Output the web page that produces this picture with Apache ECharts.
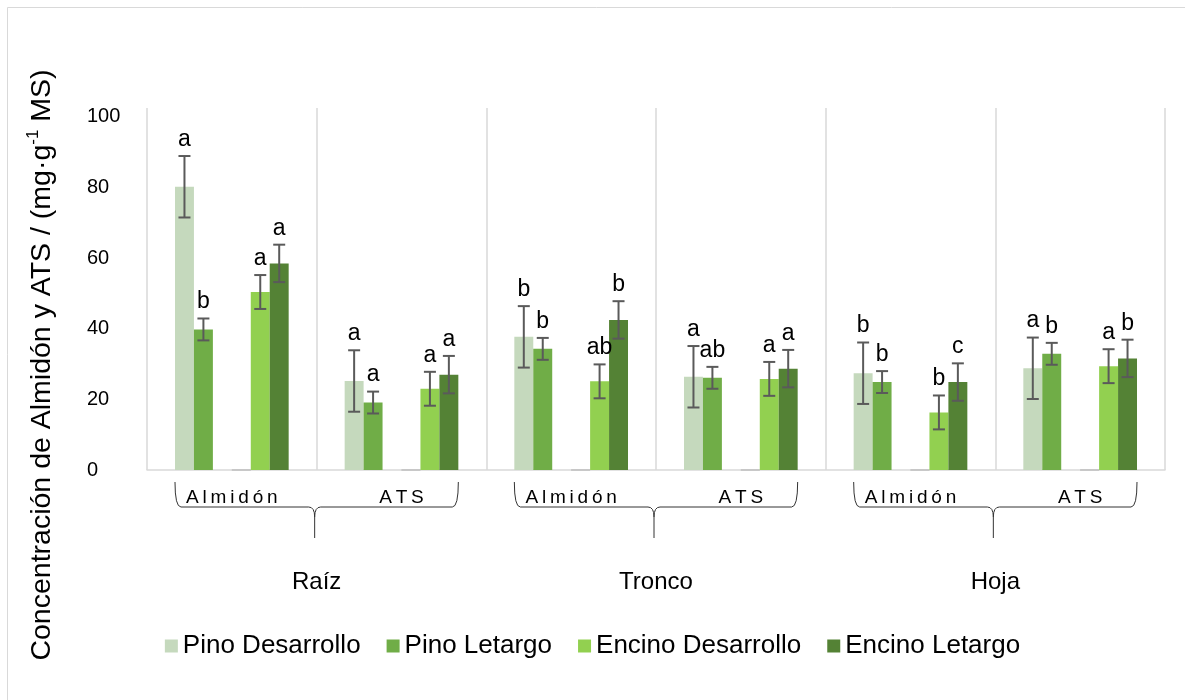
<!DOCTYPE html>
<html>
<head>
<meta charset="utf-8">
<script src="https://cdn.jsdelivr.net/npm/echarts@6/dist/echarts.min.js"></script>
<style>
  html, body { margin: 0; padding: 0; background: #fff; }
  #chart { width: 1185px; height: 700px; }
</style>
</head>
<body>
<div id="chart"></div>
<script>
// Sub-categories (one per bar group) and their parent organs
const categories = ['Almidón', 'ATS', 'Almidón', 'ATS', 'Almidón', 'ATS'];
const organs = ['Raíz', 'Tronco', 'Hoja'];
const yTicks = [0, 20, 40, 60, 80, 100];

// Mean concentration (mg·g-1 MS)
const pinoDesarrollo   = [80.2, 25.2, 37.7, 26.4, 27.4, 28.8];
const pinoLetargo      = [39.8, 19.1, 34.3, 26.1, 24.9, 32.9];
const encinoDesarrollo = [50.4, 23.0, 25.1, 25.8, 16.3, 29.4];
const encinoLetargo    = [58.5, 27.0, 42.5, 28.7, 24.9, 31.6];

// Error bar half-widths
const errPinoDesarrollo   = [8.7, 8.7, 8.7, 8.7, 8.7, 8.7];
const errPinoLetargo      = [3.1, 3.1, 3.1, 3.1, 3.1, 3.1];
const errEncinoDesarrollo = [4.8, 4.8, 4.8, 4.8, 4.8, 4.8];
const errEncinoLetargo    = [5.3, 5.3, 5.3, 5.3, 5.3, 5.3];

// Significance letters
const letPinoDesarrollo   = ['a', 'a', 'b', 'a', 'b', 'a'];
const letPinoLetargo      = ['b', 'a', 'b', 'ab', 'b', 'b'];
const letEncinoDesarrollo = ['a', 'a', 'ab', 'a', 'b', 'a'];
const letEncinoLetargo    = ['a', 'a', 'b', 'a', 'c', 'b'];

const seriesNames = ['Pino Desarrollo', 'Pino Letargo', 'Encino Desarrollo', 'Encino Letargo'];
const colors = ['#c5d9bd', '#70ad47', '#92d050', '#548235'];

const FONT = "'Liberation Sans', Arial, sans-serif";
const SLOTS = 6;          // bar slots per category (two of them stay empty)
const CAT_GAP = 0.33;     // barCategoryGap as a fraction

// Horizontal centre of a bar slot, from the category axis band
function slotX(api, idx, slot) {
  const cx = api.coord([idx, 0])[0];
  const band = api.size([1, 0])[0];
  const gw = band * (1 - CAT_GAP);
  const bw = gw / SLOTS;
  return cx - gw / 2 + bw * (slot + 0.5);
}

function errorSeries(values, errs, letters, slot) {
  return {
    type: 'custom',
    xAxisIndex: 0,
    yAxisIndex: 0,
    z: 5,
    silent: true,
    clip: false,
    encode: { x: 0, y: 1 },
    data: values.map((v, i) => [i, v, errs[i]]),
    renderItem: function (params, api) {
      const i = api.value(0), v = api.value(1), e = api.value(2);
      const x = slotX(api, i, slot);
      const yTop = api.coord([i, v + e])[1];
      const yBot = api.coord([i, v - e])[1];
      const cap = 6;
      const line = { stroke: '#5a5a5a', lineWidth: 2 };
      return {
        type: 'group',
        children: [
          { type: 'line', shape: { x1: x, y1: yTop, x2: x, y2: yBot }, style: line },
          { type: 'line', shape: { x1: x - cap, y1: yTop, x2: x + cap, y2: yTop }, style: line },
          { type: 'line', shape: { x1: x - cap, y1: yBot, x2: x + cap, y2: yBot }, style: line },
          {
            type: 'text',
            style: {
              text: letters[i], x: x, y: yTop - 5,
              align: 'center', verticalAlign: 'bottom',
              fontSize: 23, fontFamily: FONT, fill: '#000'
            }
          }
        ]
      };
    }
  };
}

function barSeries(name, data, color) {
  return {
    name: name, type: 'bar', data: data,
    barGap: '0%', barCategoryGap: (CAT_GAP * 100) + '%',
    itemStyle: { color: color },
    silent: true
  };
}

// Curly braces grouping each Almidón / ATS pair under its organ
const braceSeries = {
  type: 'custom',
  xAxisIndex: 0, yAxisIndex: 0,
  silent: true, clip: false,
  encode: { x: 0, y: 1 },
  data: organs.map((o, g) => [g * 2, 0]),
  renderItem: function (params, api) {
    const i = api.value(0);
    const band = api.size([1, 0])[0];
    const gw = band * (1 - CAT_GAP);
    const L = api.coord([i, 0])[0] - gw / 2;
    const R = api.coord([i + 1, 0])[0] + gw / 2;
    const M = (api.coord([i, 0])[0] + api.coord([i + 1, 0])[0]) / 2 - 2;
    const y0 = api.coord([i, 0])[1];
    const yEnd = y0 + 12, yMid = y0 + 37, yTip = y0 + 68;
    const r = 6;
    const d = [
      'M', L, yEnd, 'Q', L, yMid, L + r, yMid,
      'L', M - r, yMid, 'Q', M, yMid, M, yMid + 10, 'L', M, yTip,
      'M', M, yMid + 10, 'Q', M, yMid, M + r, yMid,
      'L', R - r, yMid, 'Q', R, yMid, R, yEnd
    ].join(' ');
    return {
      type: 'path',
      shape: { pathData: d },
      style: { stroke: '#333333', lineWidth: 1, fill: null }
    };
  }
};

const chart = echarts.init(document.getElementById('chart'), null, { renderer: 'canvas' });

chart.setOption({
  backgroundColor: '#fff',
  animation: false,
  grid: { left: 147, right: 20, top: 108, bottom: 230 },
  legend: {
    data: seriesNames,
    top: 628,
    left: 'center',
    icon: 'rect',
    itemWidth: 13,
    itemHeight: 13,
    itemGap: 26,
    textStyle: { fontSize: 26, fontFamily: FONT, color: '#000' }
  },
  xAxis: [
    {
      type: 'category',
      data: categories,
      axisLine: { show: true, lineStyle: { color: '#d9d9d9', width: 1.5 } },
      axisTick: { show: false },
      splitLine: { show: true, interval: 0, lineStyle: { color: '#d9d9d9', width: 1.5 } },
      axisLabel: {
        interval: 0,
        margin: 18,
        fontSize: 19,
        fontFamily: FONT,
        color: '#000',
        formatter: function (v) { return v.split('').join('\u2009'); }
      }
    },
    {
      type: 'category',
      data: organs,
      position: 'bottom',
      offset: 92,
      axisLine: { show: false },
      axisTick: { show: false },
      splitLine: { show: false },
      axisLabel: { interval: 0, fontSize: 24, fontFamily: FONT, color: '#000' }
    }
  ],
  yAxis: {
    type: 'value',
    min: 0,
    max: 102.5,
    interval: 20,
    axisLine: { show: false },
    axisTick: { show: false },
    splitLine: { show: false },
    axisLabel: {
      showMaxLabel: false,
      align: 'left',
      margin: 60,
      fontSize: 20,
      fontFamily: FONT,
      color: '#000',
      formatter: function (v) { return yTicks.indexOf(v) >= 0 ? String(v) : ''; }
    }
  },
  graphic: [
    {
      type: 'rect',
      shape: { x: 7.5, y: 7.5, width: 1200, height: 720 },
      style: { stroke: '#d9d9d9', fill: null, lineWidth: 1 },
      silent: true
    },
    {
      type: 'text',
      x: 42, y: 365,
      rotation: Math.PI / 2,
      silent: true,
      style: {
        text: '{t|Concentración de Almidón y ATS / (mg·g}{s|-1}{t| MS)}',
        align: 'center',
        verticalAlign: 'middle',
        rich: {
          t: { fontSize: 28.5, fontFamily: FONT, fill: '#000', lineHeight: 34 },
          s: { fontSize: 17, fontFamily: FONT, fill: '#000', lineHeight: 34, verticalAlign: 'top' }
        }
      }
    }
  ],
  series: [
    barSeries(seriesNames[0], pinoDesarrollo, colors[0]),
    barSeries(seriesNames[1], pinoLetargo, colors[1]),
    barSeries('vacío', categories.map(() => 0), 'rgba(0,0,0,0)'),
    Object.assign(barSeries('base', categories.map(() => 0), 'rgba(0,0,0,0)'),
      { itemStyle: { color: 'rgba(0,0,0,0)', borderColor: '#bfbfbf', borderWidth: 1 } }),
    barSeries(seriesNames[2], encinoDesarrollo, colors[2]),
    barSeries(seriesNames[3], encinoLetargo, colors[3]),
    errorSeries(pinoDesarrollo, errPinoDesarrollo, letPinoDesarrollo, 0),
    errorSeries(pinoLetargo, errPinoLetargo, letPinoLetargo, 1),
    errorSeries(encinoDesarrollo, errEncinoDesarrollo, letEncinoDesarrollo, 4),
    errorSeries(encinoLetargo, errEncinoLetargo, letEncinoLetargo, 5),
    braceSeries
  ]
});
</script>
</body>
</html>
